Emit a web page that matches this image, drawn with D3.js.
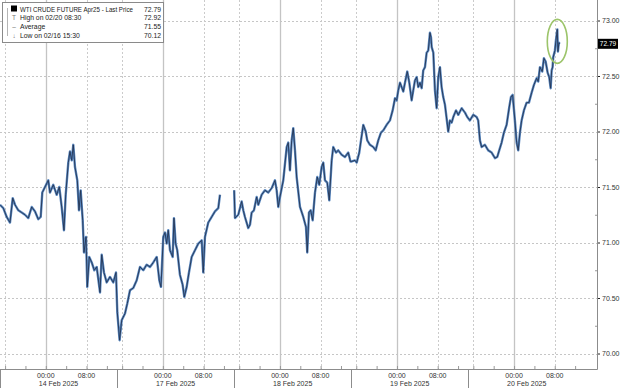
<!DOCTYPE html>
<html>
<head>
<meta charset="utf-8">
<script src="https://cdn.jsdelivr.net/npm/d3@7"></script>
<style>
  body { margin: 0; background: #fff; }
  svg { display: block; font-family: "Liberation Sans", Arial, sans-serif; }
</style>
</head>
<body>
<svg id="chart" width="620" height="388"></svg>
<script>
// sessions open at 15:00 the previous day and last 23 hours
const sessionDates = ["14 Feb 2025", "17 Feb 2025", "18 Feb 2025", "19 Feb 2025", "20 Feb 2025"];

// [hours since session open, price]
const feb14 = [
  [0, 71.34], [0.65, 71.31], [1.32, 71.23], [1.96, 71.18], [2.5, 71.4], [2.95, 71.34],
  [3.6, 71.29], [4.26, 71.27], [4.91, 71.25], [5.56, 71.22], [6.23, 71.32], [6.88, 71.28],
  [7.52, 71.21], [8.0, 71.23], [8.31, 71.45], [8.84, 71.5], [9.49, 71.56], [9.82, 71.45],
  [10.47, 71.52], [11.14, 71.43], [11.65, 71.5], [12.12, 71.32], [12.57, 71.11], [12.91, 71.43],
  [13.42, 71.72], [13.75, 71.82], [14.09, 71.74], [14.4, 71.88], [14.73, 71.68], [15.19, 71.56],
  [15.52, 71.29], [15.85, 71.47], [16.25, 71.2], [16.5, 70.91], [16.9, 71.05], [17.15, 70.6],
  [17.54, 70.87], [18.02, 70.82], [18.53, 70.75], [19.0, 70.78], [19.65, 70.55], [19.98, 70.89],
  [20.43, 70.73], [20.96, 70.64], [21.61, 70.69], [22.26, 70.64], [22.79, 70.73]
];
const feb17 = [
  [0.05, 70.37], [0.5, 70.12], [0.91, 70.3], [1.56, 70.36], [2.01, 70.45], [2.54, 70.57],
  [3.19, 70.59], [3.86, 70.66], [4.5, 70.78], [5.15, 70.75], [5.82, 70.8], [6.47, 70.78],
  [7.12, 70.82], [7.79, 70.87], [8.3, 70.66], [8.63, 70.6], [9.08, 71.05], [9.42, 71.09],
  [9.75, 70.99], [10.06, 71.11], [10.4, 70.93], [10.93, 70.87], [11.18, 71.22], [11.51, 70.99],
  [11.83, 70.93], [12.35, 70.71], [12.88, 70.62], [13.21, 70.51], [13.68, 70.6], [14.13, 70.73],
  [14.66, 70.87], [15.31, 70.93], [15.96, 70.99], [16.63, 71.02], [16.94, 70.73], [17.27, 71.05],
  [17.92, 71.18], [18.59, 71.23], [19.24, 71.28], [19.89, 71.31], [20.22, 71.43]
];
const feb18 = [
  [0.01, 71.47], [0.17, 71.22], [0.82, 71.25], [1.48, 71.37], [1.8, 71.29], [2.13, 71.23],
  [2.78, 71.13], [3.12, 71.16], [3.45, 71.27], [3.9, 71.29], [4.43, 71.41], [4.75, 71.34],
  [5.41, 71.43], [6.06, 71.47], [6.71, 71.45], [7.38, 71.49], [8.03, 71.56], [8.36, 71.47],
  [8.68, 71.32], [9.01, 71.41], [9.66, 71.56], [10.33, 71.86], [10.64, 71.9], [10.97, 71.65],
  [11.31, 71.92], [11.62, 72.03], [11.96, 71.83], [12.29, 71.59], [12.94, 71.32], [13.59, 71.23],
  [14.12, 71.14], [14.37, 70.91], [14.71, 71.27], [15.04, 71.29], [15.43, 71.2], [15.89, 71.45],
  [16.34, 71.59], [16.73, 71.52], [17.2, 71.68], [17.52, 71.72], [17.85, 71.56], [18.3, 71.54],
  [18.7, 71.38], [19.17, 71.74], [19.48, 71.86], [20.01, 71.81], [20.46, 71.83], [21.13, 71.79],
  [21.78, 71.77], [22.43, 71.81], [22.86, 71.73]
];
const feb19 = [
  [0.1, 71.73], [0.75, 71.74], [1.08, 71.72], [1.59, 71.81], [1.93, 71.92], [2.38, 72.06],
  [2.85, 72.0], [3.16, 71.92], [3.69, 71.88], [4.34, 71.86], [4.81, 71.83], [5.32, 71.92],
  [5.85, 71.99], [6.31, 72.01], [6.97, 72.06], [7.62, 72.1], [8.15, 72.19], [8.61, 72.3],
  [8.94, 72.28], [9.25, 72.37], [9.59, 72.44], [9.92, 72.4], [10.24, 72.36], [10.57, 72.44],
  [11.02, 72.54], [11.42, 72.44], [11.88, 72.28], [12.2, 72.37], [12.53, 72.46], [12.87, 72.49],
  [13.18, 72.4], [13.52, 72.44], [13.85, 72.39], [14.16, 72.55], [14.5, 72.58], [14.83, 72.71],
  [15.15, 72.73], [15.48, 72.89], [15.68, 72.85], [15.82, 72.76], [16.14, 72.71], [16.46, 72.37],
  [16.79, 72.21], [17.11, 72.49], [17.44, 72.58], [17.77, 72.4], [18.09, 72.31], [18.43, 72.24],
  [19.07, 72.0], [19.41, 72.1], [19.74, 72.08], [20.06, 72.13], [20.59, 72.19], [21.04, 72.15],
  [21.71, 72.21], [22.36, 72.17], [22.81, 72.13]
];
const feb20 = [
  [0.33, 72.1], [0.98, 72.15], [1.65, 72.13], [1.96, 72.1], [2.3, 71.92], [2.63, 71.86],
  [3.28, 71.88], [3.93, 71.83], [4.6, 71.81], [5.25, 71.76], [5.7, 71.77], [6.09, 71.83],
  [6.56, 71.9], [7.01, 71.99], [7.54, 72.06], [8.06, 72.22], [8.39, 72.31], [8.72, 72.33],
  [9.17, 72.1], [9.51, 71.9], [9.82, 71.83], [10.16, 71.99], [10.49, 72.1], [10.94, 72.19],
  [11.47, 72.26], [11.93, 72.26], [12.46, 72.35], [12.91, 72.42], [13.44, 72.48], [13.75, 72.45],
  [14.09, 72.58], [14.54, 72.54], [14.87, 72.66], [15.21, 72.63], [15.6, 72.53], [15.91, 72.49],
  [16.19, 72.39], [16.39, 72.55], [16.58, 72.58], [16.7, 72.67], [17.03, 72.73], [17.23, 72.82],
  [17.5, 72.92], [17.62, 72.72], [17.82, 72.8], [17.96, 72.79]
];
const sessions = [feb14, feb17, feb18, feb19, feb20];

const yTicks = [70.0, 70.5, 71.0, 71.5, 72.0, 72.5, 73.0];
const timeLabels = [{ h: 9, label: "00:00" }, { h: 17, label: "08:00" }];
const legendRows = [
  { mark: "sq", label: "WTI CRUDE FUTURE Apr25 - Last Price", value: "72.79" },
  { mark: "T", label: "High on 02/20 08:30", value: "72.92" },
  { mark: "\u2013", label: "Average", value: "71.55" },
  { mark: "\u2193", label: "Low on 02/16 15:30", value: "70.12" }
];
const lastPrice = 72.79;
const highTime = [4, 17.5];
const highPrice = 72.92;

const sessionLen = 23;
const svg = d3.select("#chart");
const right = 597, bottom = 369;

const x = d3.scaleLinear().domain([0, 117.3]).range([0, right]);
const y = d3.scaleLinear().domain([70, 73]).range([353.5, 20.5]);

// gridlines
const grid = svg.append("g");
grid.selectAll(".hg").data(yTicks).join("line")
  .attr("x1", 0).attr("x2", right)
  .attr("y1", d => Math.round(y(d)) + 0.5).attr("y2", d => Math.round(y(d)) + 0.5)
  .attr("stroke", "#c6c6c6").attr("stroke-dasharray", "2,2");

const dotted = [], solid = [];
sessions.forEach((s, k) => {
  dotted.push(k * sessionLen + 1, k * sessionLen + 17);
  solid.push(k * sessionLen + 9);
});
grid.selectAll(".vd").data(dotted).join("line")
  .attr("x1", d => Math.round(x(d)) + 0.5).attr("x2", d => Math.round(x(d)) + 0.5)
  .attr("y1", 0).attr("y2", bottom)
  .attr("stroke", "#cbcbcb").attr("stroke-dasharray", "2,2");
grid.selectAll(".vs").data(solid).join("line")
  .attr("x1", d => Math.round(x(d)) + 0.5).attr("x2", d => Math.round(x(d)) + 0.5)
  .attr("y1", 0).attr("y2", bottom)
  .attr("stroke", "#c4c4c4").attr("stroke-width", 1.3);

// price line, broken where the market was shut
const pts = [];
sessions.forEach((s, k) => s.forEach(d => pts.push({ t: k * sessionLen + d[0], p: d[1] })));
const segs = [[pts[0]]];
for (let i = 1; i < pts.length; i++) {
  if (pts[i].t - pts[i - 1].t > 1.5) segs.push([]);
  segs[segs.length - 1].push(pts[i]);
}
const line = d3.line().x(d => x(d.t)).y(d => y(d.p));
svg.append("g").selectAll("path").data(segs).join("path")
  .attr("d", line).attr("fill", "none")
  .attr("stroke", "#5a88c0").attr("stroke-width", 2.4).attr("stroke-linejoin", "round");
svg.append("g").selectAll("path").data(segs).join("path")
  .attr("d", line).attr("fill", "none")
  .attr("stroke", "#243452").attr("stroke-width", 0.9).attr("stroke-linejoin", "round");

// highlight ring round the high
svg.append("ellipse")
  .attr("cx", x(highTime[0] * sessionLen + highTime[1]))
  .attr("cy", y(highPrice) + 12)
  .attr("rx", 10).attr("ry", 22)
  .attr("fill", "none").attr("stroke", "#9cc46a").attr("stroke-width", 1.6);

// right axis
const yAxis = svg.append("g").attr("transform", `translate(${right},0)`)
  .call(d3.axisRight(y).tickValues(yTicks).tickFormat(d3.format(".2f")).tickSize(3).tickPadding(2));
yAxis.select(".domain").remove();
yAxis.selectAll("text").attr("font-size", 7).attr("fill", "#333");
yAxis.selectAll(".tick line").attr("stroke", "#222");
svg.append("g").attr("transform", `translate(${right},0)`)
  .call(d3.axisLeft(y).tickValues(yTicks.slice(1).map(d => d - 0.25)).tickFormat("").tickSize(2))
  .call(g => g.select(".domain").remove())
  .selectAll("line").attr("stroke", "#999");
svg.append("line").attr("x1", right + 0.5).attr("x2", right + 0.5).attr("y1", 0).attr("y2", bottom + 0.5)
  .attr("stroke", "#8c8c8c");

// bottom axis
const minor = [];
sessions.forEach((s, k) => [1, 5, 9, 13, 17, 21].forEach(h => minor.push(k * sessionLen + h)));
const xAxis = svg.append("g").attr("transform", `translate(0,${bottom})`)
  .call(d3.axisBottom(x).tickValues(minor).tickFormat("").tickSize(-3));
xAxis.select(".domain").remove();
xAxis.selectAll("line").attr("stroke", "#999");
svg.append("line").attr("x1", 0).attr("x2", right + 0.5).attr("y1", bottom + 0.5).attr("y2", bottom + 0.5)
  .attr("stroke", "#8c8c8c");

const labels = [];
sessions.forEach((s, k) => timeLabels.forEach(t => labels.push({ t: k * sessionLen + t.h, label: t.label })));
svg.append("g").selectAll("text").data(labels).join("text")
  .attr("x", d => x(d.t)).attr("y", 378)
  .attr("text-anchor", "middle").attr("font-size", 7).attr("fill", "#333")
  .text(d => d.label);
svg.append("g").selectAll("text").data(sessionDates).join("text")
  .attr("x", (d, k) => x(k * sessionLen + sessionLen / 2)).attr("y", 386)
  .attr("text-anchor", "middle").attr("font-size", 7).attr("fill", "#333")
  .text(d => d);
svg.append("g").selectAll("line").data(sessionDates).join("line")
  .attr("x1", (d, k) => Math.round(x(k * sessionLen)) + 0.5)
  .attr("x2", (d, k) => Math.round(x(k * sessionLen)) + 0.5)
  .attr("y1", bottom).attr("y2", 388)
  .attr("stroke", "#8c8c8c");

// last price tag
const tag = svg.append("g").attr("transform", `translate(${right + 1},${y(lastPrice)})`);
tag.append("rect").attr("x", 0).attr("y", -5).attr("width", 20).attr("height", 10).attr("fill", "#000");
tag.append("text").attr("x", 10).attr("y", 2.5).attr("text-anchor", "middle")
  .attr("font-size", 6.5).attr("fill", "#fff").text(lastPrice.toFixed(2));

// legend
const lg = svg.append("g");
lg.append("rect").attr("x", 2.5).attr("y", 2.5).attr("width", 161).attr("height", 40)
  .attr("fill", "#fff").attr("stroke", "#8a8a8a");
lg.append("line").attr("x1", 7.5).attr("x2", 7.5).attr("y1", 8).attr("y2", 36)
  .attr("stroke", "#b5b5b5");
const rows = lg.selectAll("g").data(legendRows).join("g")
  .attr("transform", (d, i) => `translate(0,${11.5 + i * 8.7})`);
rows.filter(d => d.mark === "sq").append("rect")
  .attr("x", 11).attr("y", -6).attr("width", 6).attr("height", 6).attr("fill", "#000");
rows.filter(d => d.mark !== "sq").append("text")
  .attr("x", 14).attr("text-anchor", "middle").attr("font-size", 6.5).attr("fill", "#777")
  .text(d => d.mark);
rows.append("text").attr("x", 20).attr("font-size", 6.8).attr("fill", "#222")
  .attr("textLength", (d, i) => i === 0 ? 113 : null)
  .attr("lengthAdjust", "spacingAndGlyphs")
  .text(d => d.label);
rows.append("text").attr("x", 161).attr("text-anchor", "end").attr("font-size", 6.8).attr("fill", "#222")
  .text(d => d.value);
</script>
</body>
</html>
